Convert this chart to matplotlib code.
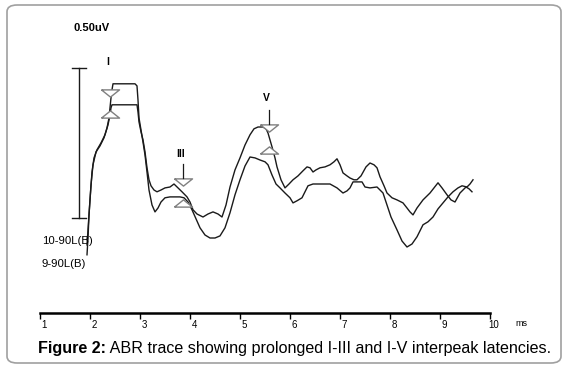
import matplotlib
matplotlib.use('Agg')
import matplotlib.pyplot as plt
import matplotlib.transforms as mtransforms
from matplotlib.patches import FancyBboxPatch

plt.rcParams['font.family'] = ['Liberation Sans', 'DejaVu Sans']

# ABR traces: time (ms) and amplitude (uV)
trace_a_ms = [1.94, 1.96, 1.98, 2.02, 2.06, 2.12, 2.20, 2.28, 2.34, 2.38, 2.40, 2.42, 2.44, 2.46,
              2.90, 2.94, 2.96, 2.98, 3.02, 3.06, 3.10, 3.14, 3.18, 3.24, 3.30, 3.36, 3.42, 3.50,
              3.60, 3.70, 3.80, 3.88, 3.96, 4.04, 4.12, 4.20, 4.30, 4.40, 4.50, 4.60, 4.70, 4.80,
              4.90, 5.00, 5.10, 5.20, 5.30, 5.40, 5.50, 5.56, 5.64, 5.72, 5.80, 5.90, 6.00, 6.06,
              6.14, 6.24, 6.30, 6.36, 6.46, 6.60, 6.80, 6.94, 7.06, 7.14, 7.20, 7.26, 7.36, 7.44,
              7.50, 7.60, 7.74, 7.86, 7.94, 8.02, 8.14, 8.24, 8.34, 8.44, 8.54, 8.66, 8.76, 8.86,
              8.96, 9.06, 9.16, 9.26, 9.36, 9.44, 9.54, 9.60, 9.66]
trace_a_uv = [-0.123, -0.067, 0.010, 0.110, 0.177, 0.220, 0.240, 0.267, 0.300, 0.333, 0.367, 0.400, 0.427, 0.447,
              0.447, 0.440, 0.393, 0.333, 0.293, 0.253, 0.210, 0.153, 0.093, 0.043, 0.020, 0.033, 0.053, 0.067,
              0.070, 0.070, 0.070, 0.067, 0.053, 0.027, -0.003, -0.033, -0.057, -0.067, -0.067, -0.060, -0.033, 0.017,
              0.077, 0.127, 0.173, 0.203, 0.200, 0.193, 0.187, 0.177, 0.143, 0.113, 0.100, 0.083, 0.067, 0.050,
              0.057, 0.067, 0.087, 0.107, 0.113, 0.113, 0.113, 0.100, 0.083, 0.090, 0.100, 0.120, 0.120, 0.120,
              0.103, 0.100, 0.103, 0.083, 0.043, 0.003, -0.040, -0.077, -0.097, -0.087, -0.063, -0.023, -0.013, 0.003,
              0.030, 0.050, 0.070, 0.087, 0.100, 0.107, 0.103, 0.113, 0.127]

trace_b_ms = [1.94, 1.96, 2.00, 2.04, 2.08, 2.14, 2.22, 2.30, 2.36, 2.40, 2.42, 2.44, 2.94, 2.96,
              2.98, 3.02, 3.06, 3.10, 3.14, 3.18, 3.22, 3.28, 3.34, 3.42, 3.50, 3.60, 3.68, 3.76,
              3.84, 3.94, 4.00, 4.06, 4.14, 4.26, 4.36, 4.46, 4.56, 4.64, 4.72, 4.80, 4.90, 5.00,
              5.10, 5.20, 5.28, 5.36, 5.46, 5.52, 5.56, 5.60, 5.64, 5.70, 5.74, 5.82, 5.90, 5.98,
              6.06, 6.16, 6.26, 6.34, 6.40, 6.46, 6.52, 6.60, 6.70, 6.80, 6.88, 6.94, 7.00, 7.06,
              7.14, 7.20, 7.28, 7.34, 7.42, 7.52, 7.60, 7.68, 7.74, 7.80, 7.88, 7.94, 8.04, 8.14,
              8.26, 8.34, 8.40, 8.46, 8.54, 8.66, 8.80, 8.88, 8.96, 9.04, 9.14, 9.22, 9.30, 9.40,
              9.52, 9.58, 9.64]
trace_b_uv = [-0.090, -0.040, 0.060, 0.153, 0.200, 0.227, 0.250, 0.277, 0.310, 0.343, 0.367, 0.377, 0.377, 0.353,
              0.320, 0.287, 0.260, 0.220, 0.167, 0.127, 0.107, 0.093, 0.087, 0.093, 0.100, 0.103, 0.113, 0.100,
              0.087, 0.070, 0.053, 0.027, 0.013, 0.003, 0.013, 0.020, 0.013, 0.003, 0.043, 0.103, 0.160, 0.200,
              0.243, 0.277, 0.297, 0.303, 0.303, 0.297, 0.283, 0.260, 0.237, 0.200, 0.170, 0.127, 0.100, 0.113,
              0.127, 0.140, 0.157, 0.170, 0.167, 0.153, 0.160, 0.167, 0.170, 0.177, 0.187, 0.197, 0.177, 0.150,
              0.140, 0.133, 0.127, 0.127, 0.140, 0.170, 0.183, 0.177, 0.167, 0.137, 0.107, 0.083, 0.067, 0.060,
              0.050, 0.033, 0.020, 0.010, 0.033, 0.060, 0.083, 0.100, 0.117, 0.100, 0.077, 0.060, 0.053, 0.083,
              0.103, 0.097, 0.087]

# peak markers
peak_names = ['I', 'III', 'V']
peak_ms = [2.40, 3.87, 5.58]
peak_down_uv = [0.415, 0.120, 0.300]
peak_up_uv = [0.345, 0.050, 0.227]
peak_label_uv = [0.520, 0.213, 0.400]
stem_top_uv = [None, 0.180, 0.360]

tick_ms = [1, 2, 3, 4, 5, 6, 7, 8, 9, 10]
tick_labels = ['1', '2', '3', '4', '5', '6', '7', '8', '9', '10']

scale_bar_uv = 0.50
scale_bar_ms = 1.78
trace_labels = ['10-90L(B)', '9-90L(B)']
trace_label_uv = [-0.077, -0.153]

fig = plt.figure(figsize=(5.66, 3.69), dpi=100)

# rounded frame
fig.patches.append(FancyBboxPatch((7 / 566, 1 - 363 / 369), 554 / 566, 358 / 369,
                                  boxstyle='round,pad=0,rounding_size=0.018',
                                  transform=fig.transFigure, facecolor='white',
                                  edgecolor='#a0a0a0', linewidth=1.2, zorder=-5))

ax = fig.add_axes([40 / 566, 56 / 369, 450 / 566, 303 / 369])
ax.set_xlim(1, 10)
ax.set_ylim(-0.317, 0.693)
ax.patch.set_alpha(0)
for s in ['left', 'top', 'right']:
    ax.spines[s].set_visible(False)
ax.spines['bottom'].set_linewidth(1.8)
ax.set_yticks([])
ax.set_xticks(tick_ms)
ax.set_xticklabels(tick_labels, fontsize=7)
ax.tick_params(axis='x', direction='out', length=4, width=1, pad=1)
shift = mtransforms.ScaledTranslation(3 / 72, 0, fig.dpi_scale_trans)
for lab in ax.get_xticklabels():
    lab.set_transform(lab.get_transform() + shift)
ax.text(10.5, -0.352, 'ms', fontsize=6.5, va='center', ha='left', clip_on=False)

# traces
ax.plot(trace_a_ms, trace_a_uv, color='#1a1a1a', lw=1, clip_on=False)
ax.plot(trace_b_ms, trace_b_uv, color='#1a1a1a', lw=1, clip_on=False)

# markers
down_tri = [(-1, 0.4), (1, 0.4), (0, -0.4), (-1, 0.4)]
up_tri = [(-1, -0.4), (1, -0.4), (0, 0.4), (-1, -0.4)]
ax.plot(peak_ms, peak_down_uv, ls='none', marker=down_tri, ms=13, mfc='white',
        mec='#808080', mew=1, zorder=3)
ax.plot(peak_ms, peak_up_uv, ls='none', marker=up_tri, ms=13, mfc='white',
        mec='#808080', mew=1, zorder=3)
for name, x, top, low, ylab in zip(peak_names, peak_ms, stem_top_uv, peak_down_uv, peak_label_uv):
    if top is not None:
        ax.plot([x, x], [low + 0.012, top], color='#1a1a1a', lw=0.9, zorder=4)
    ax.text(x - 0.05, ylab, name, fontsize=7.5, fontweight='bold', ha='center', va='center')

# scale bar
ax.plot([scale_bar_ms, scale_bar_ms], [0, scale_bar_uv], color='#1a1a1a', lw=1)
ax.plot([scale_bar_ms - 0.14, scale_bar_ms + 0.14], [0, 0], color='#1a1a1a', lw=1)
ax.plot([scale_bar_ms - 0.14, scale_bar_ms + 0.14], [scale_bar_uv, scale_bar_uv], color='#1a1a1a', lw=1)
ax.text(1.66, 0.633, '%.2fuV' % scale_bar_uv, fontsize=8, fontweight='bold', ha='left', va='center')

for lab, y in zip(trace_labels, trace_label_uv):
    ax.text(1.04, y, lab, fontsize=8.2, ha='left', va='center')

# caption
t1 = fig.text(38 / 566, 1 - 349 / 369, 'Figure 2:', fontsize=11.6, fontweight='bold',
              ha='left', va='center')
ax.annotate(' ABR trace showing prolonged I-III and I-V interpeak latencies.',
            xy=(1, 0.5), xycoords=t1, fontsize=11.6, ha='left', va='center')

fig.savefig('out.png', dpi=100)
